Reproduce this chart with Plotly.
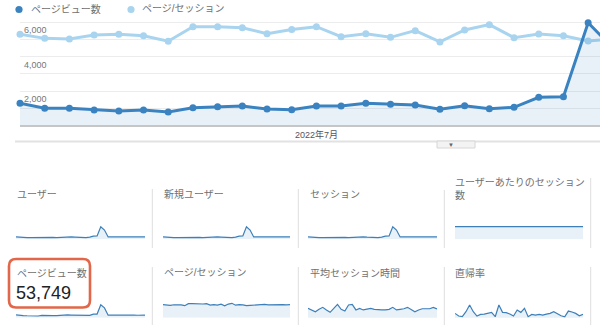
import plotly.graph_objects as go

W, H = 600, 331


def px(x):
    return x / W


def py(y):
    return 1 - y / H


# ---------------- data ----------------
weeks = list(range(25))
main_pageviews = [1283, 991, 991, 892, 834, 892, 776, 1026, 1085, 1125, 950, 910,
                  1125, 1125, 1283, 1224, 1184, 933, 1143, 968, 1050, 1633, 1668, 5983, 4500]
main_pages_per_session = [5.31, 5.07, 5.03, 5.27, 5.31, 5.22, 4.90, 5.75, 5.75, 5.69, 5.34, 5.58,
                          5.75, 5.17, 5.34, 5.13, 5.52, 4.86, 5.56, 5.87, 5.11, 5.32, 5.22, 4.92, 5.03]
month_tick_vals = [12]
month_tick_text = ["2022年7月"]
y_grid_vals = [1000, 2000, 3000, 4000, 5000, 6000]
y_label_vals = [2000, 4000, 6000]
y_label_text = ["2,000", "4,000", "6,000"]
legend_names = ["ページビュー数", "ページ/セッション"]

pageviews_extra = [1150, 1200, 1180, 1220, 1250, 1100, 1150, 1180, 1120, 1200, 1230]
pps_extra = [5.10, 5.30, 5.20, 5.40, 5.20, 5.30, 5.10, 5.25, 5.30, 5.20, 5.30]

spark_pageviews = main_pageviews + pageviews_extra
spark_pages_per_session = main_pages_per_session + pps_extra
spark_sessions = [242, 195, 197, 169, 157, 171, 158, 178, 189, 198, 178, 163, 196, 218, 240, 239, 214, 192,
                  206, 165, 205, 307, 320, 1216, 895, 225, 226, 227, 226, 240, 208, 225, 225, 211, 231, 232]
spark_users = [207, 167, 168, 144, 134, 146, 135, 152, 162, 169, 152, 139, 168, 186, 205, 204, 183, 164,
               176, 141, 175, 262, 274, 1039, 765, 192, 193, 194, 193, 205, 178, 192, 192, 180, 197, 198]
spark_new_users = [176, 142, 143, 122, 114, 124, 115, 129, 138, 144, 129, 118, 143, 158, 174, 173, 156, 139,
                   150, 120, 149, 223, 233, 883, 650, 163, 164, 165, 164, 174, 151, 163, 163, 153, 167, 168]
spark_sessions_per_user = [1.17, 1.17, 1.16, 1.16, 1.15, 1.16, 1.17, 1.17, 1.17, 1.16, 1.16, 1.17,
                           1.17, 1.17, 1.16, 1.16, 1.17, 1.17, 1.17, 1.17, 1.17, 1.16, 1.17, 1.17,
                           1.17, 1.16, 1.16, 1.16, 1.16, 1.17, 1.17, 1.17, 1.18, 1.17, 1.17, 1.17]
spark_avg_duration = [110, 102, 93, 105, 115, 102, 90, 110, 130, 105, 97, 127, 130, 102, 110, 102, 105, 110,
                      105, 102, 102, 102, 105, 115, 102, 105, 108, 115, 105, 93, 102, 108, 108, 108, 115, 107]
spark_bounce = [51.4, 42.3, 40.0, 57.1, 80.0, 57.1, 42.3, 48.0, 49.1, 51.4, 54.9, 40.0,
                80.0, 54.9, 53.7, 49.1, 42.3, 62.9, 54.9, 68.6, 40.0, 48.0, 45.7, 48.0,
                45.7, 49.1, 51.4, 57.1, 49.1, 43.4, 40.0, 59.4, 56.0, 51.4, 43.4, 48.0]
spark_index = list(range(36))

panel_titles = ["ユーザー", "新規ユーザー", "セッション", "ユーザーあたりのセッション<br>数",
                "ページビュー数", "ページ/セッション", "平均セッション時間", "直帰率"]
panel_values = [spark_users, spark_new_users, spark_sessions, spark_sessions_per_user,
                spark_pageviews, spark_pages_per_session, spark_avg_duration, spark_bounce]
highlight_value = "53,749"

# ---------------- styles ----------------
DARK = "#3a83c0"
LIGHT = "#a9d4ef"
FILL = "rgba(58,131,192,0.11)"
SPARK = "#3d7fb9"
TXT = "#707070"
FONT = "Liberation Sans, Noto Sans CJK JP, sans-serif"

panel_ranges = [[0, 2061], [0, 1752], [0, 2413], [0, 2.32],
                [0, 11506], [0, 10.2], [63.2, 188.2], [36.6, 122.3]]
col_x = [(16, 145), (163, 290), (308, 437), (455, 583)]
row_y = [(214.3, 239.3), (292.7, 317.7)]
title_x = [15, 161.5, 307.5, 453]
title_y = [194, 272.5]

fig = go.Figure()

# main chart
fig.add_trace(go.Scatter(
    x=weeks, y=main_pages_per_session, mode="lines+markers",
    line=dict(color=LIGHT, width=3), marker=dict(size=7, color=LIGHT),
    xaxis="x", yaxis="y", cliponaxis=False, hoverinfo="skip", showlegend=False))
fig.add_trace(go.Scatter(
    x=weeks, y=main_pageviews, mode="lines+markers", fill="tozeroy", fillcolor=FILL,
    line=dict(color=DARK, width=3), marker=dict(size=7, color=DARK),
    xaxis="x", yaxis="y2", cliponaxis=False, hoverinfo="skip", showlegend=False))

layout = dict(
    width=W, height=H, margin=dict(l=0, r=0, t=0, b=0),
    paper_bgcolor="white", plot_bgcolor="rgba(0,0,0,0)",
    font=dict(family=FONT, color=TXT),
    xaxis=dict(domain=[px(20), 1], range=[0, 23.48], showgrid=False, zeroline=False,
               showline=True, linecolor="#c6c6c6", linewidth=2,
               tickvals=month_tick_vals, ticktext=month_tick_text, ticks="",
               tickfont=dict(size=9, color="#555", family=FONT), fixedrange=True),
    yaxis=dict(domain=[py(125.3), py(15)], range=[0, 6.432],
               tickvals=[v / 1000 for v in y_grid_vals], showticklabels=False,
               gridcolor="#ececec", gridwidth=1, zeroline=False, fixedrange=True),
    yaxis2=dict(overlaying="y", range=[0, 6432], showgrid=False, showticklabels=False,
                zeroline=False, fixedrange=True),
)

annotations = []
shapes = []

for v, t in zip(y_label_vals, y_label_text):
    annotations.append(dict(x=px(22), xref="paper", y=v, yref="y2", text=t, showarrow=False,
                            xanchor="left", yanchor="top", yshift=-1,
                            font=dict(size=9, color="#777")))

# legend
legend_dot_x = [19, 131]
legend_text_x = [29, 140]
for name, color, dx, tx in zip(legend_names, [DARK, LIGHT], legend_dot_x, legend_text_x):
    shapes.append(dict(type="circle", xref="paper", yref="paper",
                       x0=px(dx - 3.6), x1=px(dx + 3.6), y0=py(9.5 + 3.6), y1=py(9.5 - 3.6),
                       fillcolor=color, line=dict(width=0)))
    annotations.append(dict(x=px(tx), y=py(9), xref="paper", yref="paper", showarrow=False,
                            xanchor="left", yanchor="middle", text=name,
                            font=dict(size=10, color=TXT)))

# separator + tab
shapes.append(dict(type="line", xref="paper", yref="paper", x0=px(15), x1=1, y0=py(141.5), y1=py(141.5),
                   line=dict(color="#e2e2e2", width=2)))
shapes.append(dict(type="rect", xref="paper", yref="paper", x0=px(437), x1=px(475), y0=py(148), y1=py(141),
                   fillcolor="#f3f3f3", line=dict(color="#d6d6d6", width=1)))
annotations.append(dict(x=px(456), y=py(144.5), xref="paper", yref="paper", text="▼", showarrow=False,
                        font=dict(size=6, color="#666")))

# sparkline panels
for k in range(8):
    r, c = divmod(k, 4)
    xa = f"x{k + 2}"
    ya = f"y{k + 3}"
    fig.add_trace(go.Scatter(
        x=spark_index, y=panel_values[k], mode="lines", fill="tozeroy", fillcolor=FILL,
        line=dict(color=SPARK, width=1.2), xaxis=xa, yaxis=ya, hoverinfo="skip", showlegend=False))
    layout[f"xaxis{k + 2}"] = dict(domain=[px(col_x[c][0]), px(col_x[c][1])], range=[0, 35],
                                   visible=False, anchor=ya, fixedrange=True)
    layout[f"yaxis{k + 3}"] = dict(domain=[py(row_y[r][1]), py(row_y[r][0])], range=panel_ranges[k],
                                   visible=False, anchor=xa, fixedrange=True)
    ty = title_y[r]
    if k == 3:
        ty = 188.8
    annotations.append(dict(x=px(title_x[c]), y=py(ty), xref="paper", yref="paper", showarrow=False,
                            xanchor="left", yanchor="middle", align="left", text=panel_titles[k],
                            font=dict(size=10, color=TXT)))

# big value
annotations.append(dict(x=px(14), y=py(293.3), xref="paper", yref="paper", showarrow=False,
                        xanchor="left", yanchor="middle", text=highlight_value,
                        font=dict(size=18, color="#222", family=FONT)))

# dividers
div_x = [152.3, 298.3, 444.3, 590.7]
div_top_row1 = [189, 189, 190, 178]
for x, t in zip(div_x, div_top_row1):
    shapes.append(dict(type="line", xref="paper", yref="paper", x0=px(x), x1=px(x), y0=py(t), y1=py(248),
                       line=dict(color="#dedede", width=1)))
    shapes.append(dict(type="line", xref="paper", yref="paper", x0=px(x), x1=px(x), y0=py(267), y1=py(325),
                       line=dict(color="#dedede", width=1)))


def rounded_rect(x0, y0, x1, y1, r):
    pts = [
        ("M", [(x0 + r, y0)]), ("L", [(x1 - r, y0)]), ("Q", [(x1, y0), (x1, y0 + r)]),
        ("L", [(x1, y1 - r)]), ("Q", [(x1, y1), (x1 - r, y1)]), ("L", [(x0 + r, y1)]),
        ("Q", [(x0, y1), (x0, y1 - r)]), ("L", [(x0, y0 + r)]), ("Q", [(x0, y0), (x0 + r, y0)]),
    ]
    s = ""
    for cmd, ps in pts:
        s += cmd + " " + " ".join(f"{px(a):.5f},{py(b):.5f}" for a, b in ps) + " "
    return s + "Z"


shapes.append(dict(type="path", xref="paper", yref="paper", path=rounded_rect(9, 259, 90, 307.5, 7),
                   line=dict(color="#e2674a", width=2.6)))

layout["annotations"] = annotations
layout["shapes"] = shapes
fig.update_layout(**layout)

fig.write_html("out.html")
